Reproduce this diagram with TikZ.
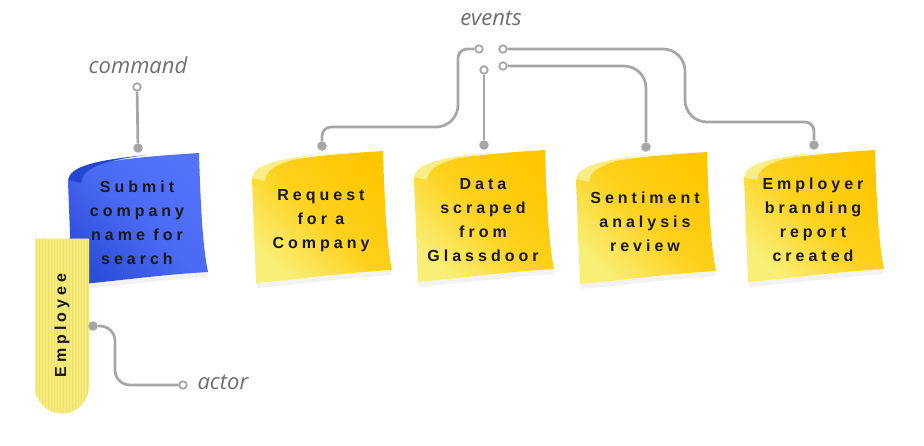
\documentclass[tikz,border=0pt]{standalone}
\usepackage{fontspec}
\setmainfont{Liberation Sans}
\newfontfamily\notefont[LetterSpace=25]{Liberation Sans}
\newfontfamily\tagfont{Open Sans}
\usetikzlibrary{backgrounds,shapes.misc,patterns}
\definecolor{Wire}{HTML}{A6A6A6}
\definecolor{Tag}{HTML}{6E6E6E}
\definecolor{YelLight}{HTML}{F9EF77}
\definecolor{YelDark}{HTML}{FFC700}
\definecolor{YelFold}{HTML}{F9EE86}
\definecolor{BluLight}{HTML}{5473FB}
\definecolor{BluDark}{HTML}{2D4EDB}
\definecolor{BluFold}{HTML}{2346D0}
\definecolor{Actor}{HTML}{F6EB7C}
\definecolor{ActorLine}{HTML}{EEE26C}

% sticky note paper behind a named node: #2 corner colour (lower left), #3 main colour, #4 fold
\newcommand{\notebody}[4]{%
  \begin{scope}[on background layer,shift={(#1.center)}]
    \fill[black,opacity=.05] (-64,67) .. controls (-20,63) and (25,57) .. (70,54)
      -- (71,49) .. controls (20,52) and (-20,58) .. (-65,62) -- cycle;
    \shade[top color=#2,bottom color=#3,middle color=#3!75!#2,shading angle=135]
      (-69,-41) .. controls (-67,-57) and (-35,-64) .. (62,-70)
      .. controls (64,0) and (67,30) .. (71,49)
      .. controls (20,52) and (-20,58) .. (-65,62) -- cycle;
    \fill[#4] (-69,-43) .. controls (-67,-57) and (-40,-63) .. (10,-68)
      .. controls (-35,-62) and (-55,-55) .. (-56,-40) -- cycle;
  \end{scope}}

\begin{document}
\begin{tikzpicture}[x=1pt,y=-1pt,
    note/.style={align=center,text=black!90,
      font=\notefont\fontsize{16}{24}\selectfont\bfseries},
    actor/.style={rounded rectangle,rounded rectangle east arc=none,rotate=90,
      minimum width=175pt,minimum height=54pt,inner sep=0pt,
      preaction={fill=Actor},pattern=vertical lines,pattern color=ActorLine,
      text=black!90,font=\notefont\fontsize{16}{20}\selectfont\bfseries},
    tag/.style={text=Tag,font=\tagfont\itshape\fontsize{22}{26}\selectfont},
    wire/.style={draw=Wire,line width=2.7pt},
    endopen/.style={circle,draw=Wire,fill=white,line width=1.8pt,inner sep=0pt,minimum size=7.5pt},
    enddot/.style={circle,fill=Wire,inner sep=0pt,minimum size=9.5pt}
  ]
  \useasboundingbox (0,0) rectangle (924,445);

  % notes
  \node[note] (submit) at (137,223) {Submit\\company\\name for\\search};
  \node[note] (req) at (321,221) {Request\\for a\\Company};
  \node[note] (scrape) at (483,220) {Data\\scraped\\from\\Glassdoor};
  \node[note] (senti) at (645,222) {Sentiment\\analysis\\review};
  \node[note] (report) at (813,220) {Employer\\branding\\report\\created};
  \notebody{submit}{BluDark}{BluLight}{BluFold}
  \foreach \n in {req,scrape,senti,report}{\notebody{\n}{YelLight}{YelDark}{YelFold}}

  \node[actor] (emp) at (62,325.5) {Employee};

  % labels and ends
  \node[tag] (cmd) at (138,65) {command};
  \node[tag] (evt) at (491,18) {events};
  \node[tag,anchor=west] (act) at (194,382) {actor};
  \node[endopen] (cmdport) at (137,87) {};
  \node[endopen] (e1) at (479,49) {};
  \node[endopen] (e2) at (503,49) {};
  \node[endopen] (e3) at (484,70) {};
  \node[endopen] (e4) at (503,66) {};
  \node[endopen] (actport) at (183,385) {};
  \foreach \n in {submit,req,scrape,senti,report}
    \node[enddot] (\n pin) at ([shift={(1,-75)}]\n.center) {};
  \node[enddot] (emppin) at (93,326) {};

  % connectors
  \draw[wire] (cmdport) -- (submitpin);
  \draw[wire] (e1) [rounded corners=9] -- (458,49) [rounded corners=22] -- (458,127)
    [rounded corners=9] -- (reqpin |- 0,127) -- (reqpin);
  \draw[wire] (e3) -- (scrapepin);
  \draw[wire,rounded corners=22] (e4) -| (sentipin);
  \draw[wire] (e2) [rounded corners=22] -- (685,49) -- (685,122)
    [rounded corners=9] -- (reportpin |- 0,122) -- (reportpin);
  \draw[wire,rounded corners=15] (emppin) -- (115,326) -- (115,385) -- (actport);
\end{tikzpicture}
\end{document}
